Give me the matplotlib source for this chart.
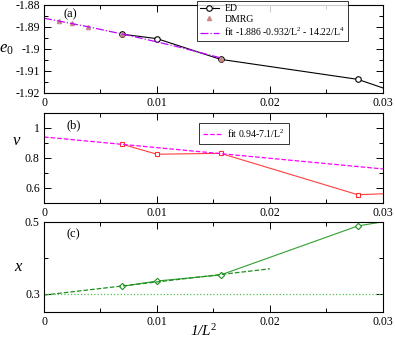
import matplotlib
matplotlib.use("Agg")
import matplotlib.pyplot as plt
from matplotlib.ticker import MultipleLocator
from matplotlib.legend_handler import HandlerLine2D

plt.rcParams['font.family'] = ['Liberation Serif', 'DejaVu Serif']
plt.rcParams['mathtext.fontset'] = 'custom'
plt.rcParams['mathtext.it'] = 'Liberation Serif:italic'
plt.rcParams['mathtext.rm'] = 'Liberation Serif'

# panel (a): ground state energy
ed_x = [0.006944, 0.01, 0.015625, 0.027778, 0.03125]
ed_e = [-1.8933, -1.8953, -1.9047, -1.9138, -1.9199]
dmrg_x = [0.00137, 0.0025, 0.0039, 0.006944, 0.015625]
dmrg_e = [-1.8873, -1.8884, -1.8899, -1.8933, -1.9046]
fita_x = [0.0, 0.004, 0.008, 0.012, 0.0156]
fita_e = [-1.8860, -1.8900, -1.8944, -1.8992, -1.9040]

# panel (b): nu
nu_x = [0.006944, 0.01, 0.015625, 0.027778, 0.03125]
nu_v = [0.891, 0.825, 0.831, 0.555, 0.565]
fitb_x = [0.0, 0.03]
fitb_v = [0.94, 0.727]

# panel (c): x
xc_x = [0.006944, 0.01, 0.015625, 0.027778, 0.03125]
xc_v = [0.3214, 0.3361, 0.3528, 0.489, 0.507]
fitc_x = [0.0, 0.02]
fitc_v = [0.297, 0.370]
ref_x = [0.0, 0.03]
ref_v = [0.3, 0.3]

xticks = [0.0, 0.01, 0.02, 0.03]
xtick_labels = ['0', '0.01', '0.02', '0.03']

fig = plt.figure(figsize=(3.95, 3.43), dpi=100)
ax1 = fig.add_axes([0.1114, 0.7289, 0.858, 0.2566])
ax2 = fig.add_axes([0.1114, 0.4082, 0.858, 0.2624])
ax3 = fig.add_axes([0.1114, 0.0904, 0.858, 0.2624])

for ax in (ax1, ax2, ax3):
    ax.set_xlim(0, 0.03)
    ax.set_xticks(xticks)
    ax.set_xticklabels(xtick_labels)
    ax.xaxis.set_minor_locator(MultipleLocator(0.005))
    ax.tick_params(which='both', direction='in', top=True, right=True, labelsize=8.5, pad=3)
    ax.tick_params(which='major', length=5, width=0.7)
    ax.tick_params(which='minor', length=3, width=0.7)
    for s in ax.spines.values():
        s.set_linewidth(0.8)

# (a)
ax1.plot(ed_x, ed_e, '-', color='black', lw=0.8, marker='o', ms=4, mfc='white', mec='black', mew=0.8, label='ED')
ax1.plot(dmrg_x, dmrg_e, ls='none', marker='^', ms=3, color='#c07878', alpha=0.8, label='DMRG')
ax1.plot(fita_x, fita_e, '-.', color='#c000ff', lw=0.9, label=r'fit -1.886 -0.932/L$^2$ - 14.22/L$^4$')
ax1.set_ylim(-1.92, -1.88)
ax1.set_yticks([-1.92, -1.91, -1.90, -1.89, -1.88])
ax1.set_yticklabels(['-1.92', '-1.91', '-1.9', '-1.89', '-1.88'])
ax1.yaxis.set_minor_locator(MultipleLocator(0.005))
ax1.set_ylabel(r'$e_0$', fontsize=12, rotation=0, ha='center', va='center')
ax1.yaxis.set_label_coords(-0.11, 0.5)
ax1.text(0.0017, -1.8858, '(a)', fontsize=9)
leg = ax1.legend(loc='upper left', bbox_to_anchor=(0.452, 1.045), fontsize=7, frameon=True,
                 fancybox=False, edgecolor='black', handlelength=1.9, borderpad=0.3,
                 labelspacing=0.2, handletextpad=0.6, borderaxespad=0,
                 handler_map={ax1.lines[1]: HandlerLine2D(numpoints=1)})
leg.get_frame().set_linewidth(0.7)

# (b)
ax2.plot(nu_x, nu_v, '-', color='#ff4040', lw=0.8, marker='s', ms=3.5, mfc='white', mec='#ff3030', mew=0.8)
ax2.plot(fitb_x, fitb_v, '--', color='#ff00ff', lw=0.9, label=r'fit 0.94-7.1/L$^2$')
ax2.set_ylim(0.5, 1.1)
ax2.set_yticks([0.6, 0.8, 1.0])
ax2.set_yticklabels(['0.6', '0.8', '1'])
ax2.yaxis.set_minor_locator(MultipleLocator(0.1))
ax2.set_ylabel(r'$\nu$', fontsize=12, rotation=0, ha='center', va='center')
ax2.yaxis.set_label_coords(-0.081, 0.69)
ax2.text(0.002, 1.0, '(b)', fontsize=9)
leg2 = ax2.legend(loc='upper left', bbox_to_anchor=(0.456, 0.89), fontsize=7, frameon=True,
                  fancybox=False, edgecolor='black', handlelength=1.9, borderpad=0.45,
                  handletextpad=0.6, borderaxespad=0)
leg2.get_frame().set_linewidth(0.7)

# (c)
ax3.plot(xc_x, xc_v, '-', color='#30a030', lw=0.8, marker='D', ms=3.2, mfc='white', mec='#209020', mew=0.8)
ax3.plot(fitc_x, fitc_v, '--', color='#209020', lw=0.9)
ax3.plot(ref_x, ref_v, ':', color='#50c050', lw=0.9)
ax3.set_ylim(0.25, 0.5)
ax3.set_yticks([0.3, 0.5])
ax3.set_yticklabels(['0.3', '0.5'])
ax3.yaxis.set_minor_locator(MultipleLocator(0.1))
ax3.set_ylabel(r'$x$', fontsize=12, rotation=0, ha='center', va='center')
ax3.yaxis.set_label_coords(-0.074, 0.5)
ax3.text(0.002, 0.458, '(c)', fontsize=9)
ax3.set_xlabel(r'1/L$^2$', fontsize=11, style='italic', va='center')
ax3.xaxis.set_label_coords(0.47, -0.215)

fig.savefig('out.png', dpi=100)
